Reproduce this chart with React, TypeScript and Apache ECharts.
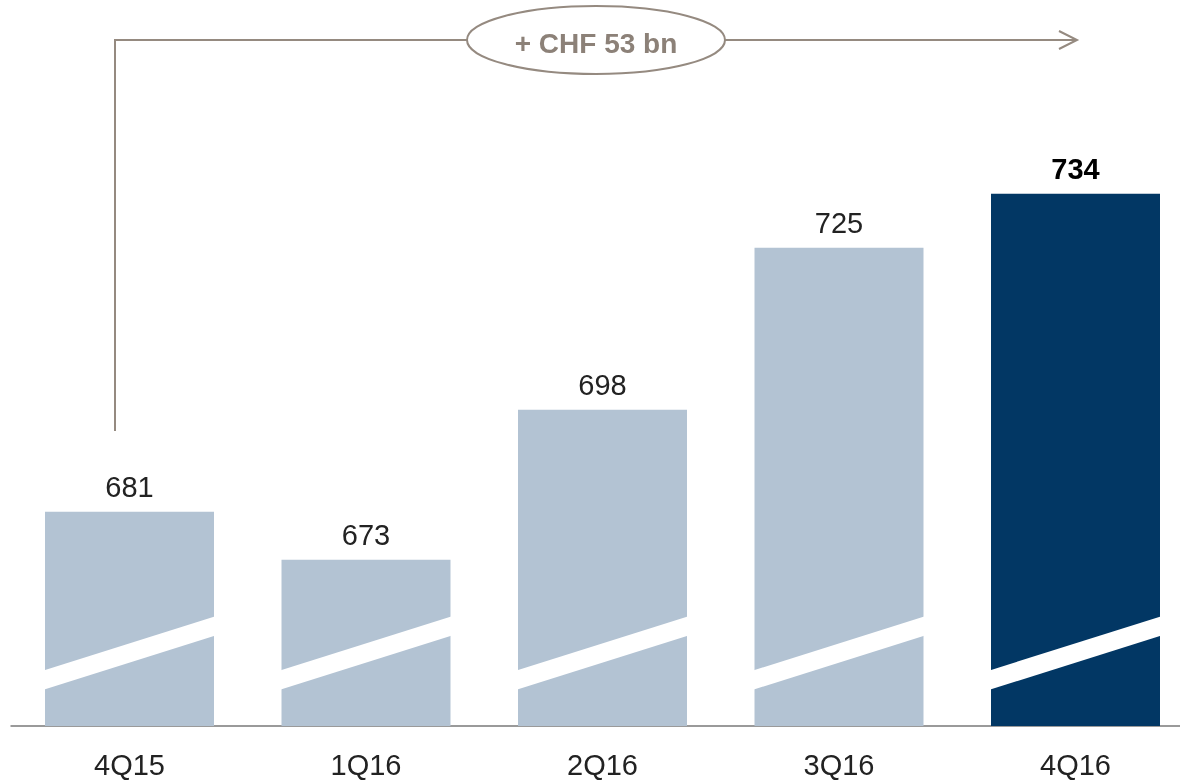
import React, { useEffect, useRef } from "react";
import * as echarts from "echarts";

const categories = ["4Q15", "1Q16", "2Q16", "3Q16", "4Q16"];
const values = [681, 673, 698, 725, 734];
const highlightIndex = 4;
const changeLabel = "+ CHF 53 bn";

const LIGHT = "#b3c3d3";
const DARK = "#023764";
const GREY = "#958a80";

export default function App() {
  const ref = useRef<HTMLDivElement>(null);
  useEffect(() => {
    if (!ref.current) return;
    const chart = echarts.init(ref.current, undefined, { renderer: "svg" });
    const yMin = 645.3;
    chart.setOption({
      animation: false,
      grid: { left: 11.25, width: 1182.5, top: 96, bottom: 56 },
      xAxis: {
        type: "category",
        data: categories,
        axisTick: { show: false },
        axisLine: { lineStyle: { color: "#9a9a9a", width: 2 } },
        axisLabel: {
          color: "#222",
          fontSize: 29,
          fontFamily: "Liberation Sans, Arial, sans-serif",
          margin: 24,
        },
      },
      yAxis: {
        type: "value",
        min: yMin,
        max: 750.3,
        show: false,
        splitLine: { show: false },
      },
      series: [
        {
          type: "bar",
          barWidth: 169,
          data: values.map((v, i) => ({
            value: v,
            itemStyle: { color: i === highlightIndex ? DARK : LIGHT },
            label: {
              show: true,
              position: "top",
              distance: 10,
              fontSize: 29,
              fontFamily: "Liberation Sans, Arial, sans-serif",
              color: i === highlightIndex ? "#000" : "#222",
              fontWeight: i === highlightIndex ? "bold" : "normal",
            },
          })),
          z: 2,
        },
        {
          type: "custom",
          z: 5,
          data: values.map((v, i) => [i, v]),
          renderItem: (params: any, api: any) => {
            const base = api.coord([api.value(0), yMin]);
            const cx = base[0];
            const by = base[1];
            const L = cx - 86;
            const R = cx + 86;
            const slope = -53.3 / 169;
            const y = (x: number, off: number) => by - off + (x - (cx - 84.5)) * slope;
            return {
              type: "polygon",
              shape: {
                points: [
                  [L, y(L, 56)],
                  [R, y(R, 56)],
                  [R, y(R, 36.7)],
                  [L, y(L, 36.7)],
                ],
              },
              style: { fill: "#ffffff" },
            };
          },
        },
      ],
      graphic: [
        {
          type: "polyline",
          shape: { points: [[115, 431], [115, 40], [1077, 40]] },
          style: { stroke: GREY, lineWidth: 2, fill: null },
          z: 10,
        },
        {
          type: "polyline",
          shape: { points: [[1059, 31], [1077, 40], [1059, 49]] },
          style: { stroke: GREY, lineWidth: 2, fill: null },
          z: 10,
        },
        {
          type: "ellipse",
          shape: { cx: 596, cy: 40, rx: 129, ry: 34 },
          style: { fill: "#ffffff", stroke: GREY, lineWidth: 2 },
          z: 11,
        },
        {
          type: "text",
          x: 596,
          y: 43,
          style: {
            text: changeLabel,
            fill: "#8c8178",
            font: "bold 28px 'Liberation Sans', Arial, sans-serif",
            textAlign: "center",
            textVerticalAlign: "middle",
          },
          z: 12,
        },
      ],
    });
    return () => chart.dispose();
  }, []);
  return (
    <div
      style={{
        position: "fixed",
        left: 0,
        top: 0,
        width: 1180,
        height: 782,
        overflow: "hidden",
      }}
    >
      <div ref={ref} style={{ width: 1200, height: 782 }} />
    </div>
  );
}
